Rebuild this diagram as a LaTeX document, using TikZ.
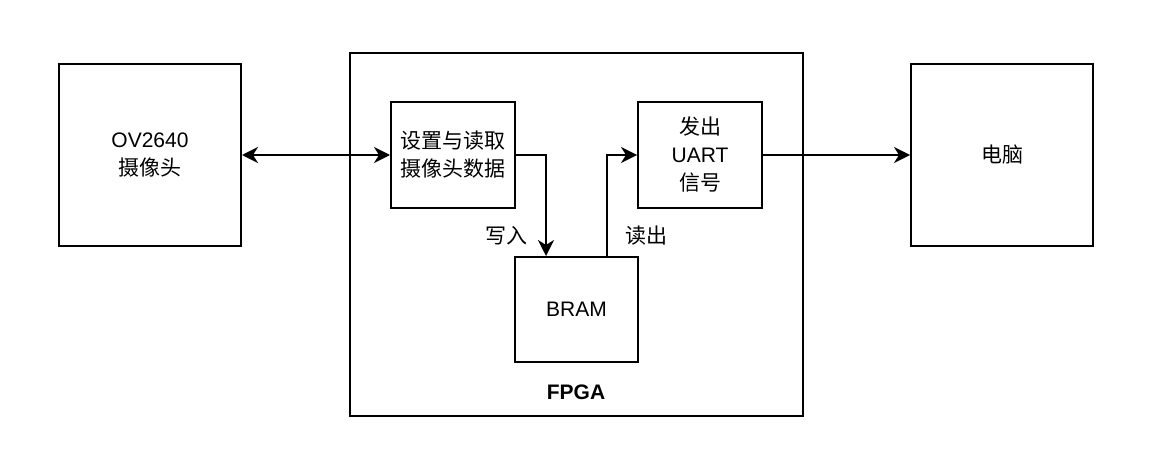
\documentclass[tikz,border=0pt]{standalone}
\usepackage{fontspec}
\setmainfont{Liberation Sans}
\newfontfamily\cjk{Noto Sans CJK SC}
\usetikzlibrary{arrows.meta}
\tikzset{
  block/.style={draw, line width=1pt, align=center, inner sep=0pt},
  cjktext/.style={font=\fontsize{10.5}{14}\selectfont\cjk},
  arr/.style={line width=1pt, -{Stealth[length=8pt,width=8pt,inset=2.5pt]}},
  darr/.style={line width=1pt, {Stealth[length=8pt,width=8pt,inset=2.5pt]}-{Stealth[length=8pt,width=8pt,inset=2.5pt]}},
}
\begin{document}
\begin{tikzpicture}[x=0.5pt, y=-0.5pt, font=\fontsize{10.5}{14}\selectfont]
  \useasboundingbox (0,0) rectangle (1149,460);

  % outer box
  \node[block, minimum width=226.5pt, minimum height=181.5pt] (fpga) at (576,234.5) {};
  \node[font=\fontsize{10.5}{14}\selectfont\bfseries] (fpgalabel) at (576,392) {FPGA};

  \node[block, minimum width=91pt, minimum height=91pt] (cam) at (150,155) {OV2640\\{\cjk 摄像头}};
  \node[block, cjktext, minimum width=62pt, minimum height=53pt] (cfg) at (453,155) {设置与读取\\摄像头数据};
  \node[block, minimum width=62pt, minimum height=53pt] (uart) at (700,155) {{\cjk 发出}\\UART\\{\cjk 信号}};
  \node[block, minimum width=61.5pt, minimum height=52.5pt] (bram) at (576.5,309.5) {BRAM};
  \node[block, cjktext, minimum width=91pt, minimum height=91pt] (pc) at (1002,155) {电脑};

  \node[cjktext] (wr) at (506,236) {写入};
  \node[cjktext] (rd) at (646,236) {读出};

  \draw[darr] (cam.east) -- (cfg.west);
  \draw[arr] (cfg.east) -| ([xshift=-15.25pt]bram.north);
  \draw[arr] ([xshift=15.25pt]bram.north) |- (uart.west);
  \draw[arr] (uart.east) -- (pc.west);

\end{tikzpicture}
\end{document}
